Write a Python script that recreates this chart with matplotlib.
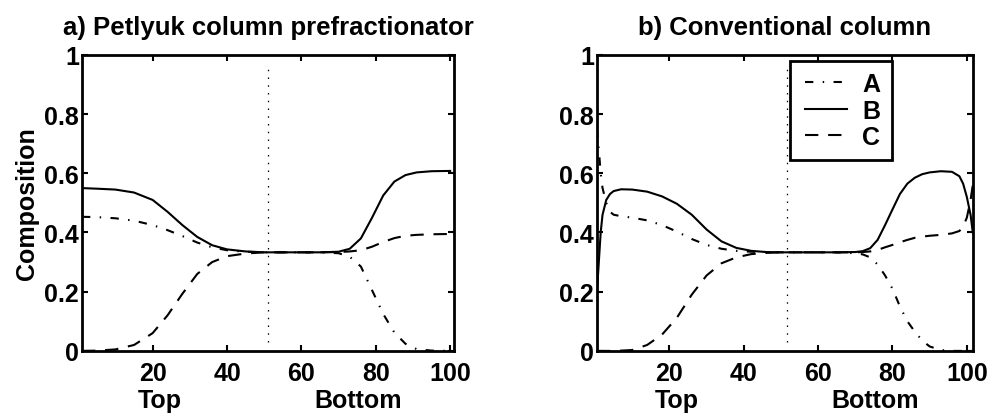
import matplotlib
matplotlib.use('Agg')
import matplotlib.pyplot as plt
from matplotlib.legend_handler import HandlerLine2D

plt.rcParams['font.family'] = ['Liberation Sans', 'DejaVu Sans']
plt.rcParams['font.weight'] = 'bold'
plt.rcParams['font.size'] = 18

# a) Petlyuk column prefractionator (stage number, top -> bottom)
stages_a = [1, 5, 10, 15, 20, 24, 28, 32, 36, 40, 45, 50, 55, 60, 65, 70,
            73, 76, 79, 82, 85, 88, 91, 95, 100]
comp_A_a = [0.453, 0.452, 0.448, 0.440, 0.425, 0.408, 0.388, 0.366, 0.350, 0.340,
            0.335, 0.333, 0.333, 0.333, 0.333, 0.330, 0.318, 0.285, 0.205, 0.125,
            0.062, 0.024, 0.006, 0.001, 0.000]
comp_B_a = [0.550, 0.548, 0.545, 0.535, 0.510, 0.470, 0.425, 0.385, 0.357, 0.343,
            0.336, 0.333, 0.333, 0.333, 0.333, 0.335, 0.345, 0.380, 0.450, 0.525,
            0.572, 0.594, 0.603, 0.607, 0.608]
comp_C_a = [0.000, 0.001, 0.005, 0.020, 0.060, 0.120, 0.193, 0.260, 0.300, 0.320,
            0.329, 0.333, 0.333, 0.333, 0.333, 0.334, 0.336, 0.340, 0.352, 0.368,
            0.381, 0.389, 0.392, 0.394, 0.395]

# b) Conventional column
stages_b = [0.5, 1, 1.5, 2, 3, 4, 5, 7, 10, 14, 18, 22, 26, 30, 34, 38, 42, 46,
            50, 55, 60, 65, 70, 72, 74, 76, 78, 80, 82, 84, 86, 88, 90, 93, 96,
            98, 99, 100, 101, 101.6]
comp_A_b = [0.75, 0.68, 0.60, 0.55, 0.50, 0.47, 0.46, 0.455, 0.450, 0.441, 0.425,
            0.403, 0.378, 0.358, 0.345, 0.338, 0.335, 0.334, 0.333, 0.333, 0.333,
            0.333, 0.330, 0.326, 0.316, 0.292, 0.255, 0.210, 0.150, 0.100, 0.065,
            0.035, 0.015, 0.003, 0.0, 0.0, 0.0, 0.0, 0.0, 0.0]
comp_B_b = [0.20, 0.30, 0.40, 0.46, 0.51, 0.53, 0.54, 0.546, 0.545, 0.538, 0.522,
            0.497, 0.460, 0.410, 0.370, 0.348, 0.338, 0.334, 0.333, 0.333, 0.333,
            0.333, 0.334, 0.337, 0.347, 0.375, 0.425, 0.478, 0.530, 0.565, 0.585,
            0.597, 0.603, 0.607, 0.605, 0.590, 0.565, 0.520, 0.460, 0.400]
comp_C_b = [0.0, 0.0, 0.0, 0.0, 0.0, 0.0, 0.0, 0.001, 0.003, 0.020, 0.055, 0.112,
            0.190, 0.255, 0.296, 0.316, 0.327, 0.331, 0.333, 0.333, 0.333, 0.333,
            0.333, 0.334, 0.336, 0.341, 0.350, 0.358, 0.367, 0.375, 0.382, 0.386,
            0.389, 0.392, 0.397, 0.405, 0.420, 0.450, 0.510, 0.560]

feed_stage_a = 51
feed_stage_b = 51.5
xlims = [(1, 101), (0.5, 101.6)]
titles = ['a) Petlyuk column prefractionator', 'b) Conventional column']
labels = ['A', 'B', 'C']

fig = plt.figure(figsize=(9.89, 4.14), dpi=100)
ax1 = fig.add_axes([0.0829, 0.150, 0.376, 0.715])
ax2 = fig.add_axes([0.6036, 0.150, 0.380, 0.715])

styles = [(0, (4, 4.5, 0.7, 4.5)), '-', (0, (6.4, 4.7))]
panels = [
    (ax1, stages_a, [comp_A_a, comp_B_a, comp_C_a], feed_stage_a),
    (ax2, stages_b, [comp_A_b, comp_B_b, comp_C_b], feed_stage_b),
]

for i, (ax, x, comps, feed) in enumerate(panels):
    for y, ls, lab in zip(comps, styles, labels):
        ax.plot(x, y, color='black', lw=1.5, linestyle=ls, label=lab)
    ax.axvline(feed, ymin=0.03, ymax=0.97, color='black', lw=0.9,
               linestyle=(0, (1.2, 5)))
    ax.set_xlim(*xlims[i])
    ax.set_ylim(0, 1)
    ax.set_xticks([20, 40, 60, 80, 100])
    ax.set_yticks([0, 0.2, 0.4, 0.6, 0.8, 1])
    ax.set_yticklabels(['0', '0.2', '0.4', '0.6', '0.8', '1'])
    ax.tick_params(direction='in', length=4, width=1.5, top=True, right=True,
                   labelsize=18)
    ax.tick_params(axis='x', pad=7)
    ax.tick_params(axis='y', pad=2)
    for sp in ax.spines.values():
        sp.set_linewidth(2)
    ax.set_title(titles[i], fontsize=18.5, fontweight='bold', pad=15)
    tr = ax.get_xaxis_transform()
    ax.text(22, -0.165, 'Top', transform=tr, ha='center', va='center',
            fontsize=18, fontweight='bold')
    ax.text(75.3, -0.165, 'Bottom', transform=tr, ha='center', va='center',
            fontsize=18, fontweight='bold')

ax1.set_ylabel('Composition', fontsize=18, fontweight='bold', labelpad=4)

leg = ax2.legend(loc='upper left', bbox_to_anchor=(0.513, 0.98), fancybox=False,
                 framealpha=1, edgecolor='black', handlelength=1.85,
                 handletextpad=0.6, labelspacing=0.1, borderpad=0.45,
                 borderaxespad=0, fontsize=18,
                 handler_map={plt.Line2D: HandlerLine2D(xpad=0.15)})
leg.get_frame().set_linewidth(2)

fig.savefig('out.png', dpi=100)
